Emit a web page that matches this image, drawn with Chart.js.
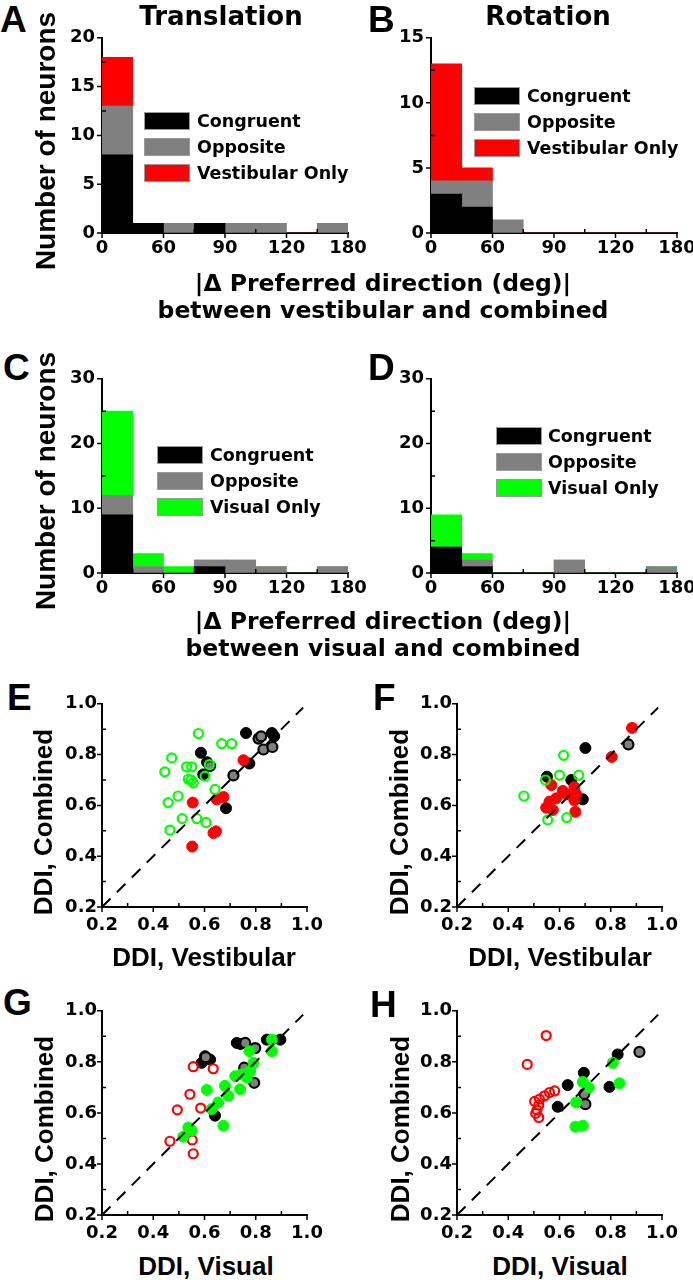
<!DOCTYPE html>
<html>
<head>
<meta charset="utf-8">
<script src="https://cdn.jsdelivr.net/npm/chart.js@4.4.1/dist/chart.umd.min.js"></script>
<style>
  body { margin: 0; background: #fff; width: 693px; height: 1280px; position: relative; overflow: hidden; }
  canvas { position: absolute; }
  .t { position: absolute; white-space: nowrap; line-height: 1; color: #000; font-weight: bold; }
  .lg { position: absolute; width: 46px; height: 18px; box-sizing: border-box; border: 1px solid #9a9a9a; }
</style>
</head>
<body>
<script>
// ---- histogram data: 8 bins, tick labels sit on bin edges 0..8 ----
const edgeLabels = ['0', '', '60', '', '90', '', '120', '', '180'];

const transCongruent = [8, 1, 0, 1, 0, 0, 0, 0];
const transOpposite  = [5, 0, 1, 0, 1, 1, 0, 1];
const transVestOnly  = [5, 0, 0, 0, 0, 0, 0, 0];

const rotCongruent = [3, 2, 0, 0, 0, 0, 0, 0];
const rotOpposite  = [1, 2, 1, 0, 0, 0, 0, 0];
const rotVestOnly  = [9, 1, 0, 0, 0, 0, 0, 0];

const transVisCongruent = [9, 0, 0, 1, 0, 0, 0, 0];
const transVisOpposite  = [3, 1, 0, 1, 2, 1, 0, 1];
const transVisOnly      = [13, 2, 1, 0, 0, 0, 0, 0];

const rotVisCongruent = [4, 1, 0, 0, 0, 0, 0, 0];
const rotVisOpposite  = [0, 1, 0, 0, 2, 0, 0, 1];
const rotVisOnly      = [5, 1, 0, 0, 0, 0, 0, 0];

// ---- DDI scatter data [x, y] ----
const diagonal = [0.2, 0.985];

const eCongruent = [[0.586,0.807],[0.762,0.885],[0.863,0.885],[0.872,0.872],[0.775,0.765],[0.684,0.589],[0.635,0.768],[0.595,0.722],[0.610,0.770],[0.552,0.665]];
const eOpposite  = [[0.648,0.742],[0.667,0.738],[0.713,0.718],[0.811,0.863],[0.821,0.872],[0.830,0.820],[0.865,0.830],[0.552,0.654],[0.622,0.755]];
const eVestOnly  = [[0.554,0.611],[0.552,0.438],[0.635,0.491],[0.645,0.498],[0.602,0.670],[0.648,0.624],[0.674,0.633],[0.706,0.774],[0.752,0.778]];
const eVisOnly   = [[0.576,0.883],[0.667,0.843],[0.706,0.843],[0.472,0.787],[0.445,0.732],[0.530,0.752],[0.550,0.752],[0.619,0.761],[0.602,0.715],[0.537,0.703],[0.556,0.689],[0.641,0.663],[0.497,0.637],[0.458,0.611],[0.513,0.548],[0.570,0.548],[0.606,0.533],[0.465,0.503],[0.548,0.700]];

const fCongruent = [[0.701,0.826],[0.675,0.759],[0.551,0.713],[0.646,0.700],[0.691,0.624],[0.671,0.631],[0.600,0.628]];
const fOpposite  = [[0.869,0.840]];
const fVestOnly  = [[0.883,0.905],[0.804,0.791],[0.568,0.680],[0.613,0.657],[0.658,0.672],[0.665,0.644],[0.587,0.628],[0.561,0.615],[0.548,0.591],[0.574,0.582],[0.662,0.575],[0.626,0.644],[0.658,0.620]];
const fVisOnly   = [[0.616,0.797],[0.600,0.719],[0.675,0.719],[0.545,0.700],[0.461,0.637],[0.554,0.543],[0.628,0.552]];

const gCongruent = [[0.726,0.874],[0.602,0.822],[0.622,0.809],[0.693,0.764],[0.843,0.887],[0.896,0.887],[0.641,0.589],[0.634,0.608],[0.746,0.680],[0.589,0.796],[0.740,0.870]];
const gOpposite  = [[0.605,0.818],[0.759,0.874],[0.798,0.854],[0.794,0.718],[0.634,0.654],[0.755,0.777]];
const gVestOnly  = [[0.556,0.781],[0.634,0.773],[0.543,0.673],[0.537,0.638],[0.494,0.612],[0.585,0.619],[0.465,0.489],[0.552,0.494],[0.556,0.440]];
const gVisOnly   = [[0.863,0.887],[0.863,0.842],[0.775,0.842],[0.791,0.796],[0.609,0.690],[0.680,0.706],[0.720,0.744],[0.746,0.751],[0.778,0.764],[0.739,0.693],[0.693,0.667],[0.654,0.641],[0.628,0.615],[0.674,0.550],[0.537,0.543],[0.517,0.507],[0.550,0.531],[0.765,0.738]];

const hCongruent = [[0.632,0.709],[0.695,0.757],[0.827,0.829],[0.795,0.702],[0.593,0.624]];
const hOpposite  = [[0.912,0.839],[0.697,0.674],[0.701,0.634],[0.665,0.615]];
const hVestOnly  = [[0.548,0.903],[0.474,0.790],[0.581,0.686],[0.561,0.680],[0.542,0.667],[0.522,0.654],[0.503,0.645],[0.519,0.631],[0.512,0.611],[0.507,0.598],[0.519,0.582]];
const hVisOnly   = [[0.691,0.721],[0.714,0.699],[0.665,0.641],[0.808,0.796],[0.834,0.716],[0.662,0.546],[0.691,0.550]];

const BLACK = '#000000', GRAY = '#808080', RED = '#ff0000', GREEN = '#00ff00';
const DJ = "'DejaVu Sans', sans-serif";
const LS = "'Liberation Sans', Arial, sans-serif";

Chart.defaults.font.family = DJ;
Chart.defaults.font.weight = 'bold';
Chart.defaults.font.size = 18;
Chart.defaults.color = '#000';
Chart.defaults.animation = false;

// inward minor ticks, outward major ticks
const tickMarks = {
  id: 'tickMarks',
  afterDraw(chart) {
    const ctx = chart.ctx, a = chart.chartArea, x = chart.scales.x, y = chart.scales.y;
    ctx.save();
    ctx.strokeStyle = '#000';
    ctx.lineWidth = 1.5;
    ctx.beginPath();
    x.ticks.forEach(t => {
      const p = x.getPixelForValue(t.value);
      ctx.moveTo(p, a.bottom);
      ctx.lineTo(p, t.label !== '' ? a.bottom + 5 : a.bottom - 4);
    });
    y.ticks.forEach(t => {
      const p = y.getPixelForValue(t.value);
      ctx.moveTo(a.left, p);
      ctx.lineTo(t.label !== '' ? a.left - 5 : a.left + 4, p);
    });
    ctx.stroke();
    ctx.restore();
  }
};

const YW = 45, PT = 14, PR = 26, XH = 35;

function makeCanvas(axisX, top, w, h) {
  const c = document.createElement('canvas');
  c.width = YW + w + PR;
  c.height = PT + h + XH;
  c.style.left = (axisX - YW) + 'px';
  c.style.top = (top - PT) + 'px';
  document.body.appendChild(c);
  return c;
}

function axis(min, max, step, fmt, pad, isX) {
  return {
    type: 'linear', min: min, max: max, offset: false, stacked: true,
    grid: { display: false, drawTicks: false, offset: false },
    border: { display: true, color: '#000', width: 2 },
    ticks: { stepSize: step, autoSkip: false, maxRotation: 0, padding: pad, callback: fmt },
    afterFit: s => { if (isX) s.height = XH; else s.width = YW; }
  };
}

function hist(axisX, top, w, h, yMax, yStep, yMajor, series, colors) {
  const c = makeCanvas(axisX, top, w, h);
  new Chart(c, {
    type: 'bar',
    data: {
      datasets: series.map((s, k) => ({
        data: s.map((v, i) => ({ x: i + 0.5, y: v })),
        backgroundColor: colors[k],
        borderWidth: 0,
        barPercentage: 1,
        categoryPercentage: 1
      }))
    },
    options: {
      responsive: false,
      layout: { padding: { top: PT, right: PR, left: 0, bottom: 0 } },
      plugins: { legend: { display: false }, tooltip: { enabled: false } },
      scales: {
        x: axis(0, 8, 1, v => edgeLabels[v] || '', 5, true),
        y: axis(0, yMax, yStep, v => (v % yMajor === 0 ? String(v) : ''), 7, false)
      }
    },
    plugins: [tickMarks]
  });
}

function pts(arr) { return arr.map(p => ({ x: p[0], y: p[1] })); }

function scatter(axisX, top, w, h, groups) {
  const c = makeCanvas(axisX, top, w, h);
  const datasets = [{
    data: [{ x: diagonal[0], y: diagonal[0] }, { x: diagonal[1], y: diagonal[1] }],
    showLine: true, borderColor: BLACK, borderWidth: 2, borderDash: [12, 9],
    pointRadius: 0, fill: false
  }].concat(groups.map(g => ({
    data: pts(g.data),
    pointRadius: g.r,
    pointBorderWidth: g.bw,
    pointBackgroundColor: g.fill,
    pointBorderColor: g.edge,
    backgroundColor: g.fill,
    borderColor: g.edge
  })));
  const fmt = v => (Math.round(v * 10) % 2 === 0 ? v.toFixed(1) : '');
  new Chart(c, {
    type: 'scatter',
    data: { datasets: datasets },
    options: {
      responsive: false,
      layout: { padding: { top: PT, right: PR, left: 0, bottom: 0 } },
      plugins: { legend: { display: false }, tooltip: { enabled: false } },
      scales: {
        x: axis(0.2, 1.0, 0.1, fmt, 8, true),
        y: axis(0.2, 1.0, 0.1, fmt, 5, false)
      }
    },
    plugins: [tickMarks]
  });
}

function text(str, x, base, size, fam, mode) {
  const d = document.createElement('div');
  d.className = 't';
  d.textContent = str;
  d.style.fontSize = size + 'px';
  d.style.fontFamily = fam;
  if (mode === 'rot') {
    d.style.left = x + 'px';
    d.style.top = base + 'px';
    d.style.transform = 'translate(-50%,-50%) rotate(-90deg)';
  } else {
    d.style.top = (base - 0.846 * size) + 'px';
    if (mode === 'center') {
      d.style.left = (x - 400) + 'px';
      d.style.width = '800px';
      d.style.textAlign = 'center';
    } else {
      d.style.left = x + 'px';
    }
  }
  document.body.appendChild(d);
}

function legend(x, y0, tx, names, colors) {
  names.forEach((n, i) => {
    const y = y0 + i * 26;
    const b = document.createElement('div');
    b.className = 'lg';
    b.style.left = x + 'px';
    b.style.top = y + 'px';
    b.style.background = colors[i];
    document.body.appendChild(b);
    text(n, tx, y + 16, 17.5, DJ);
  });
}

// ---- histograms ----
hist(102, 34, 246, 199, 20, 2.5, 5, [transCongruent, transOpposite, transVestOnly], [BLACK, GRAY, RED]);
hist(431, 34, 246, 199, 15, 2.5, 5, [rotCongruent, rotOpposite, rotVestOnly], [BLACK, GRAY, RED]);
hist(102, 375, 246, 198, 30, 5, 10, [transVisCongruent, transVisOpposite, transVisOnly], [BLACK, GRAY, GREEN]);
hist(431, 375, 246, 198, 30, 5, 10, [rotVisCongruent, rotVisOpposite, rotVisOnly], [BLACK, GRAY, GREEN]);

legend(144, 112, 197, ['Congruent', 'Opposite', 'Vestibular Only'], [BLACK, GRAY, RED]);
legend(474, 87, 527, ['Congruent', 'Opposite', 'Vestibular Only'], [BLACK, GRAY, RED]);
legend(157, 446, 210, ['Congruent', 'Opposite', 'Visual Only'], [BLACK, GRAY, GREEN]);
legend(496, 427, 548, ['Congruent', 'Opposite', 'Visual Only'], [BLACK, GRAY, GREEN]);

// ---- scatter panels ----
const filled = (d, col) => ({ data: d, r: 5.5, bw: 1, fill: col, edge: col });
const open = (d, col) => ({ data: d, r: 4.5, bw: 2.2, fill: 'rgba(0,0,0,0)', edge: col });
const opp = d => ({ data: d, r: 5, bw: 2.2, fill: GRAY, edge: BLACK });

scatter(102, 702, 205, 205, [open(eVisOnly, GREEN), filled(eVestOnly, RED), opp(eOpposite), filled(eCongruent, BLACK)]);
scatter(457, 702, 205, 205, [open(fVisOnly, GREEN), filled(fVestOnly, RED), opp(fOpposite), filled(fCongruent, BLACK)]);
scatter(102, 1009, 205, 206, [filled(gVisOnly, GREEN), open(gVestOnly, RED), opp(gOpposite), filled(gCongruent, BLACK)]);
scatter(457, 1009, 205, 206, [filled(hVisOnly, GREEN), open(hVestOnly, RED), opp(hOpposite), filled(hCongruent, BLACK)]);

// ---- titles and labels ----
text('A', 0, 32, 37, LS);
text('B', 368, 32, 37, LS);
text('C', 3, 380, 37, LS);
text('D', 368, 380, 37, LS);
text('E', 7, 710, 37, LS);
text('F', 373, 710, 37, LS);
text('G', 3, 1015, 37, LS);
text('H', 370, 1017, 37, LS);

text('Translation', 221, 25, 26, DJ, 'center');
text('Rotation', 548, 25, 26, DJ, 'center');

text('Number of neurons', 46, 141, 28, LS, 'rot');
text('Number of neurons', 46, 481, 28, LS, 'rot');

text('|\u0394 Preferred direction (deg)|', 383, 292, 23.5, DJ, 'center');
text('between vestibular and combined', 383, 319, 23.5, DJ, 'center');
text('|\u0394 Preferred direction (deg)|', 383, 630, 23.5, DJ, 'center');
text('between visual and combined', 383, 657, 23.5, DJ, 'center');

text('DDI, Combined', 43, 822, 26, LS, 'rot');
text('DDI, Combined', 399, 822, 26, LS, 'rot');
text('DDI, Combined', 44, 1129, 26, LS, 'rot');
text('DDI, Combined', 400, 1129, 26, LS, 'rot');

text('DDI, Vestibular', 204, 966, 26, LS, 'center');
text('DDI, Vestibular', 560, 966, 26, LS, 'center');
text('DDI, Visual', 206, 1275, 26, LS, 'center');
text('DDI, Visual', 560, 1275, 26, LS, 'center');
</script>
</body>
</html>
